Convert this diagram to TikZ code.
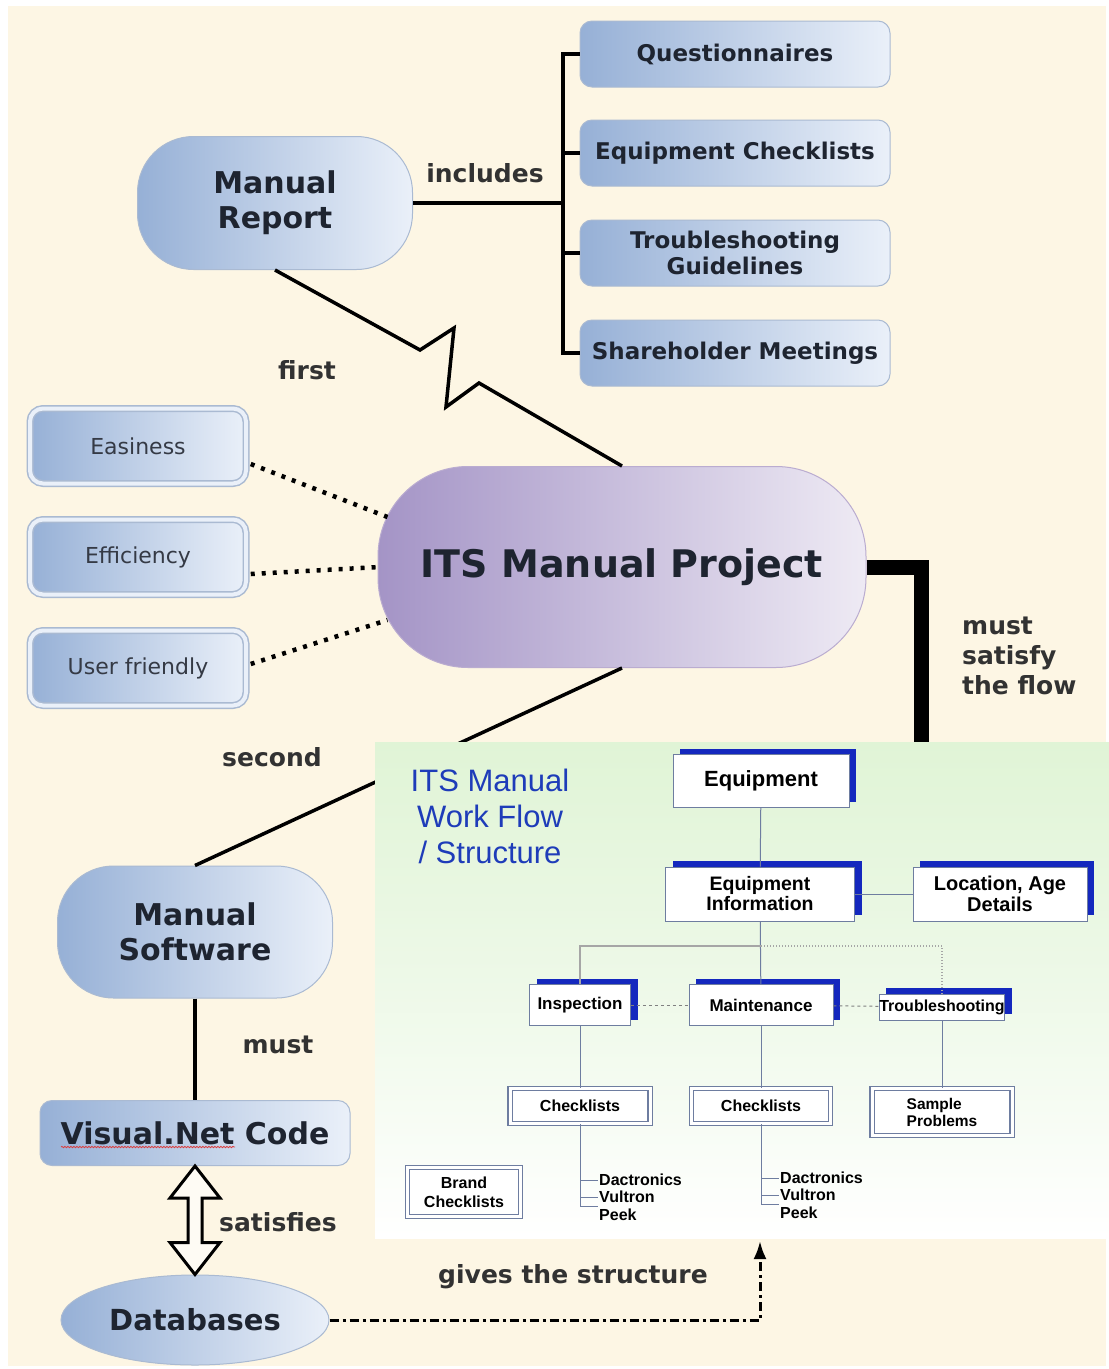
\documentclass[tikz,border=0pt]{standalone}
\usepackage{fontspec}
\setmainfont{DejaVu Sans}
\newfontfamily\arialfont{Liberation Sans}
\usetikzlibrary{positioning, shapes.geometric, shadows, arrows.meta, calc, decorations.pathmorphing}
\definecolor{creambg}{RGB}{253,246,228}
\definecolor{pilldark}{RGB}{150,176,214}
\definecolor{pilllight}{RGB}{234,240,249}
\definecolor{pillrim}{RGB}{170,186,210}
\definecolor{projdark}{RGB}{164,148,198}
\definecolor{projlight}{RGB}{238,234,244}
\definecolor{projrim}{RGB}{186,172,208}
\definecolor{inkdark}{RGB}{30,36,48}
\definecolor{labelgray}{RGB}{50,50,50}
\definecolor{wfgreen}{RGB}{224,244,214}
\definecolor{wfblue}{RGB}{20,40,190}
\definecolor{wfrim}{RGB}{110,125,160}
\definecolor{wfink}{RGB}{30,60,185}
\definecolor{spellred}{RGB}{220,60,60}
\newcommand\fsz[2]{\fontsize{#1}{#2}\selectfont}
\begin{document}
\begin{tikzpicture}[
    x=1pt, y=-1pt,
    pill/.style={rectangle, rounded corners=56pt, draw=pillrim, line width=1pt, left color=pilldark, right color=pilllight, text=inkdark, inner sep=0pt, align=center, font=\bfseries\fsz{30}{35}},
    bluebox/.style={rectangle, rounded corners=12pt, draw=pillrim, line width=1pt, left color=pilldark, right color=pilllight, text=inkdark, inner sep=0pt, minimum width=310pt, minimum height=66pt, align=center, font=\bfseries\fsz{23}{26}},
    aimbox/.style={rectangle, rounded corners=13pt, draw=pillrim, double=pilllight, double distance=4pt, line width=1.5pt, left color=pilldark, right color=pilllight, text=inkdark!90, minimum width=216pt, minimum height=75pt, inner sep=0pt, font=\fsz{22}{26}},
    linklabel/.style={font=\bfseries\fsz{25}{30}, text=labelgray, inner sep=1pt},
    link/.style={line width=4pt, black},
    linkdot/.style={line width=4.5pt, dash pattern=on 4pt off 7pt, black},
    wfbox/.style={rectangle, draw=wfrim, fill=white, line width=0.9pt, inner sep=0pt, align=center, text=black, font=\arialfont\bfseries\fsz{17}{20}, general shadow={fill=wfblue, shadow xshift=7pt, shadow yshift=6pt}},
    wflist/.style={rectangle, draw=wfrim, double=white, double distance=3pt, line width=1.1pt, fill=white, inner sep=0pt, align=center, text=black, font=\arialfont\bfseries\fsz{16}{19}},
    wfline/.style={draw=wfrim, line width=1pt},
    wfname/.style={font=\arialfont\bfseries\fsz{16}{17.5}, inner sep=1pt, anchor=west}
]
\useasboundingbox (0,0) rectangle (1109,1369);
\fill[white] (0,0) rectangle (1109,1369);
\fill[creambg] (8,6) rectangle (1106,1366);

% top part
\node[pill, minimum width=275pt, minimum height=133pt] (mreport) at (275,203) {Manual\\Report};
\node[bluebox] (quest) at (735,54) {Questionnaires};
\node[bluebox] (eqchk) at (735,153) {Equipment Checklists};
\node[bluebox] (tsguide) at (735,253) {Troubleshooting\\Guidelines};
\node[bluebox] (sharemeet) at (735,353) {Shareholder Meetings};
\coordinate (incl) at (563,203);
\draw[link] (mreport.east) -- (incl);
\draw[link] (quest.west) -- ++(-17,0) |- (sharemeet.west);
\draw[link] (eqchk.west) -- ++(-17,0);
\draw[link] (tsguide.west) -- ++(-17,0);

% project and its aims
\node[pill, rounded corners=90pt, draw=projrim, left color=projdark, right color=projlight, minimum width=488pt, minimum height=201pt, font=\bfseries\fsz{38}{44}] (itsproj) at (622,567) {ITS Manual Project};
\node[aimbox] (easy) at (138,446) {Easiness};
\node[aimbox] (effic) at (138,557) {Efficiency};
\node[aimbox] (userfr) at (138,668) {User friendly};
\draw[link, line width=3.5pt, line join=miter] (mreport.south) -- (420,350) -- (454,328) -- (446,407) -- (479,383) -- (itsproj.north);
\draw[linkdot] ($(easy.east)+(4,18)$) -- ($(itsproj.west)+(10,-50)$);
\draw[linkdot] ($(effic.east)+(4,17)$) -- ($(itsproj.west)+(2,0)$);
\draw[linkdot] ($(userfr.east)+(4,-4)$) -- ($(itsproj.west)+(10,53)$);

% bottom left
\node[pill, minimum width=275pt, minimum height=132pt] (msoft) at (195,932) {Manual\\Software};
\node[bluebox, minimum height=65pt, font=\bfseries\fsz{30}{34}] (vnet) at (195,1133) {Visual.Net Code};
\node[ellipse, draw=pillrim, line width=1pt, left color=pilldark, right color=pilllight, text=inkdark, minimum width=268pt, minimum height=90pt, inner sep=0pt, font=\bfseries\fsz{29}{32}] (dbase) at (195,1320) {Databases};
\coordinate (flowtop) at (921,745);
\draw[line width=15pt] (itsproj.east) -| (flowtop);
\draw[link, line width=3.5pt] (itsproj.south) -- (msoft.north);
\draw[link] (msoft.south) -- (vnet.north);
\draw[spellred, line width=0.8pt, decorate, decoration={snake, amplitude=0.7pt, segment length=3pt}] ($(vnet.center)+(-134,14)$) -- ($(vnet.center)+(40,14)$);
\draw[line width=3pt, fill=creambg!40!white, line join=miter] (vnet.south) -- ++(25,32) -- ++(-18,0) -- ($(dbase.north)+(7,-32)$) -- ++(18,0) -- (dbase.north) -- ++(-25,-32) -- ++(18,0) -- ($(vnet.south)+(-7,32)$) -- ++(-18,0) -- cycle;
\coordinate (gtip) at (760,1241);
\draw[line width=3pt, dash pattern=on 9pt off 4pt on 3pt off 4pt, -{Latex[length=18pt, width=13pt]}] (dbase.east) -| (gtip);

% link labels
\node[linklabel] (lincl) at (485,173) {includes};
\node[linklabel] (lfirst) at (307,370) {first};
\node[linklabel] (lsecond) at (272,757) {second};
\node[linklabel] (lmust) at (278,1045) {must};
\node[linklabel] (lsatis) at (278,1222) {satisfies};
\node[linklabel] (lgives) at (573,1277) {gives the structure};
\node[linklabel, align=left, anchor=west] (lflow) at (961,656) {must\\satisfy\\the flow};

% work flow panel
\node[rectangle, minimum width=734pt, minimum height=496pt, inner sep=0pt, top color=wfgreen, bottom color=white, middle color=wfgreen!55!white] (wfpanel) at (742,990) {};
\node[font=\arialfont\fsz{31}{36}, text=wfink, align=center] (wftitle) at (490,816) {ITS Manual\\Work Flow\\/ Structure};
\node[wfbox, minimum width=176pt, minimum height=53pt, font=\arialfont\bfseries\fsz{22}{24}] (equip) at (761,781) {Equipment};
\node[wfbox, minimum width=189pt, minimum height=54pt, font=\arialfont\bfseries\fsz{19.5}{20}] (eqinfo) at (760,894) {Equipment\\Information};
\node[wfbox, minimum width=174pt, minimum height=54pt, font=\arialfont\bfseries\fsz{20}{21}] (locage) at (1000,894) {Location, Age\\Details};
\node[wfbox, minimum width=101pt, minimum height=41pt] (insp) at (580,1005) {Inspection};
\node[wfbox, minimum width=144pt, minimum height=41pt] (maint) at (761,1005) {Maintenance};
\node[wfbox, minimum width=118pt, minimum height=26pt, font=\arialfont\bfseries\fsz{16}{18}] (trouble) at (942,1007) {Troubleshooting};
\node[wflist, minimum width=140pt, minimum height=35pt] (chklA) at (580,1106) {Checklists};
\node[wflist, minimum width=139pt, minimum height=35pt] (chklB) at (761,1106) {Checklists};
\node[wflist, minimum width=140pt, minimum height=47pt, align=left, font=\arialfont\bfseries\fsz{15.5}{17}] (sample) at (942,1112) {Sample\\Problems};
\node[wflist, minimum width=113pt, minimum height=49pt] (brand) at (464,1192) {Brand\\Checklists};
\node[wfname] (dactA) at (598,1180) {Dactronics};
\node[wfname] (vultA) at (598,1197) {Vultron};
\node[wfname] (peekA) at (598,1215) {Peek};
\node[wfname] (dactB) at (779,1178) {Dactronics};
\node[wfname] (vultB) at (779,1195) {Vultron};
\node[wfname] (peekB) at (779,1213) {Peek};
\coordinate (wfhub) at (761,946);
\draw[wfline] (equip) -- (eqinfo);
\draw[wfline] (eqinfo) -- (locage);
\draw[wfline] (eqinfo) -- (maint);
\draw[wfline, draw=gray!70, line width=2pt] (insp.north) |- (wfhub);
\draw[wfline, dotted, draw=gray!70, line width=1.5pt] (wfhub) -| (trouble.north);
\draw[wfline, dashed, draw=gray] (insp) -- (maint);
\draw[wfline, dashed, draw=gray] (maint) -- (trouble);
\draw[wfline] (insp) -- (chklA);
\draw[wfline] (maint) -- (chklB);
\draw[wfline] (trouble) -- (sample);
\draw[wfline] (chklA.south) |- ($(vultA.west)+(0,9)$);
\draw[wfline] (chklA.south |- dactA.west) -- (dactA.west);
\draw[wfline] (chklA.south |- vultA.west) -- (vultA.west);
\draw[wfline] (chklB.south) |- ($(vultB.west)+(0,9)$);
\draw[wfline] (chklB.south |- dactB.west) -- (dactB.west);
\draw[wfline] (chklB.south |- vultB.west) -- (vultB.west);
\end{tikzpicture}
\end{document}
